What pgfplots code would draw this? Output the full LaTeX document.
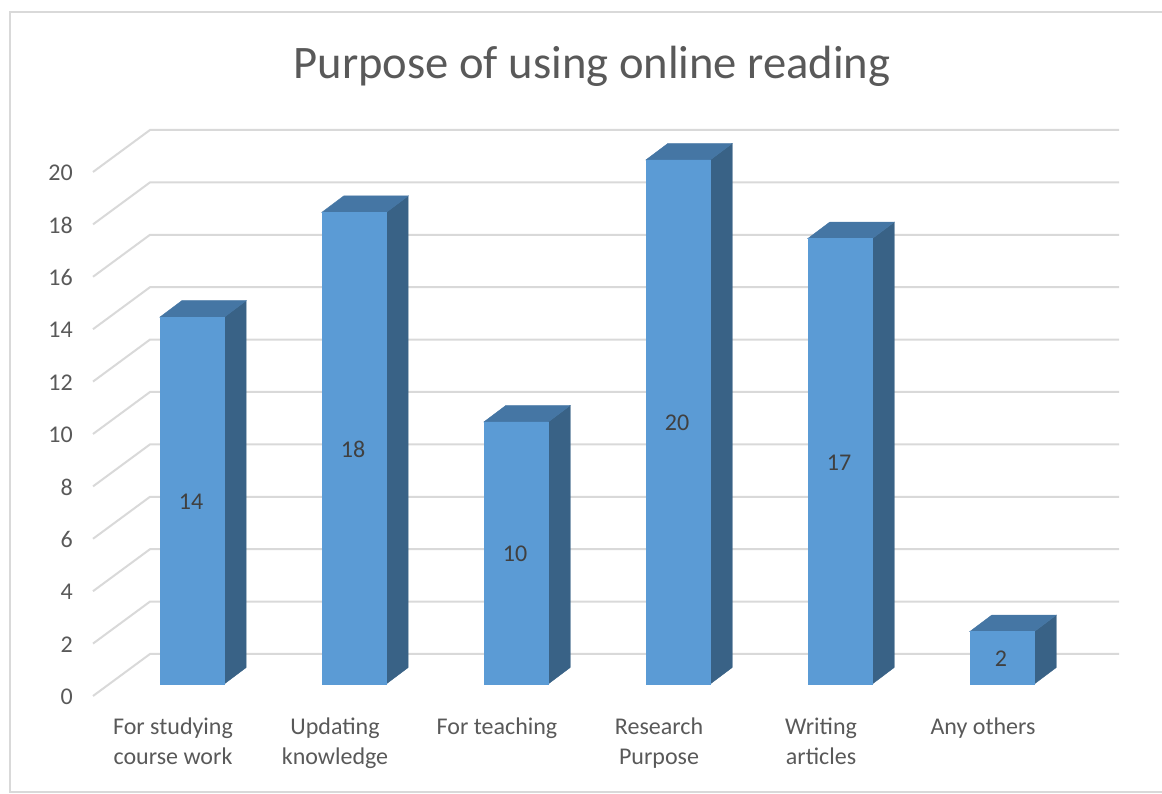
\documentclass[border=0pt]{standalone}
\usepackage{pgfplots}
\pgfplotsset{compat=1.18}
\usepackage{fontspec}
\setmainfont{Carlito}
\definecolor{gridc}{HTML}{D9D9D9}
\definecolor{txt}{HTML}{595959}
\definecolor{front}{HTML}{5B9BD5}
\definecolor{topf}{HTML}{4576A4}
\definecolor{sidef}{HTML}{396286}
\begin{document}
\begin{tikzpicture}
\useasboundingbox (0,0) rectangle (1162pt,794pt);
\draw[gridc,line width=2pt] (1165pt,2pt) -- (10pt,2pt) -- (10pt,782pt) -- (1165pt,782pt);
\begin{axis}[
  at={(0,0)}, anchor=south west,
  scale only axis, width=1162pt, height=794pt,
  xmin=-1.18519, xmax=5.98765,
  ymin=-4.1985, ymax=26.1069,
  axis line style={draw=none},
  major tick length=0pt,
  xticklabel pos=lower, yticklabel pos=left,
  xtick={0,1,2,3,4,5},
  xticklabels={{For studying\\course work},{Updating\\knowledge},{For teaching},{Research\\Purpose},{Writing\\articles},{Any others}},
  ytick={0,2,...,20},
  /pgf/number format/assume math mode=true,
  ticklabel style={text=txt,inner sep=0pt},
  xticklabel style={font=\fontsize{24}{30}\selectfont,align=center,anchor=north,xshift=-19pt,yshift=76pt},
  yticklabel style={font=\fontsize{24}{30}\selectfont,anchor=east,xshift=73pt,yshift=-13pt},
  title={Purpose of using online reading},
  title style={font=\fontsize{46.6}{52}\selectfont,text=txt,at={(0.5095,0.9095)},anchor=center},
  unbounded coords=jump,
]
% gridlines: side wall and back wall
\addplot[gridc,line width=2pt,no marks] coordinates {
(-0.6111,-0.458)(-0.2593,1.145)(5.7222,1.145)(nan,nan)
(-0.6111,1.542)(-0.2593,3.145)(5.7222,3.145)(nan,nan)
(-0.6111,3.542)(-0.2593,5.145)(5.7222,5.145)(nan,nan)
(-0.6111,5.542)(-0.2593,7.145)(5.7222,7.145)(nan,nan)
(-0.6111,7.542)(-0.2593,9.145)(5.7222,9.145)(nan,nan)
(-0.6111,9.542)(-0.2593,11.145)(5.7222,11.145)(nan,nan)
(-0.6111,11.542)(-0.2593,13.145)(5.7222,13.145)(nan,nan)
(-0.6111,13.542)(-0.2593,15.145)(5.7222,15.145)(nan,nan)
(-0.6111,15.542)(-0.2593,17.145)(5.7222,17.145)(nan,nan)
(-0.6111,17.542)(-0.2593,19.145)(5.7222,19.145)(nan,nan)
(-0.6111,19.542)(-0.2593,21.145)(5.7222,21.145)
};
% side faces
\addplot[fill=sidef,draw=sidef,line width=0.4pt,no marks] coordinates {(0.199,0)(0.3348,0.63)(0.3348,14.63)(0.199,14)} -- cycle;
\addplot[fill=sidef,draw=sidef,line width=0.4pt,no marks] coordinates {(1.199,0)(1.3348,0.63)(1.3348,18.63)(1.199,18)} -- cycle;
\addplot[fill=sidef,draw=sidef,line width=0.4pt,no marks] coordinates {(2.199,0)(2.3348,0.63)(2.3348,10.63)(2.199,10)} -- cycle;
\addplot[fill=sidef,draw=sidef,line width=0.4pt,no marks] coordinates {(3.199,0)(3.3348,0.63)(3.3348,20.63)(3.199,20)} -- cycle;
\addplot[fill=sidef,draw=sidef,line width=0.4pt,no marks] coordinates {(4.199,0)(4.3348,0.63)(4.3348,17.63)(4.199,17)} -- cycle;
\addplot[fill=sidef,draw=sidef,line width=0.4pt,no marks] coordinates {(5.199,0)(5.3348,0.63)(5.3348,2.63)(5.199,2)} -- cycle;
% top faces
\addplot[fill=topf,draw=topf,line width=0.4pt,no marks] coordinates {(-0.199,14)(0.199,14)(0.3348,14.63)(-0.0632,14.63)} -- cycle;
\addplot[fill=topf,draw=topf,line width=0.4pt,no marks] coordinates {(0.801,18)(1.199,18)(1.3348,18.63)(0.9368,18.63)} -- cycle;
\addplot[fill=topf,draw=topf,line width=0.4pt,no marks] coordinates {(1.801,10)(2.199,10)(2.3348,10.63)(1.9368,10.63)} -- cycle;
\addplot[fill=topf,draw=topf,line width=0.4pt,no marks] coordinates {(2.801,20)(3.199,20)(3.3348,20.63)(2.9368,20.63)} -- cycle;
\addplot[fill=topf,draw=topf,line width=0.4pt,no marks] coordinates {(3.801,17)(4.199,17)(4.3348,17.63)(3.9368,17.63)} -- cycle;
\addplot[fill=topf,draw=topf,line width=0.4pt,no marks] coordinates {(4.801,2)(5.199,2)(5.3348,2.63)(4.9368,2.63)} -- cycle;
% front faces
\addplot[ybar,bar width=64pt,bar shift=0pt,fill=front,draw=front,line width=0.4pt] coordinates {(0,14)(1,18)(2,10)(3,20)(4,17)(5,2)};
% data labels
\addplot[draw=none,no marks,point meta=explicit symbolic,
  nodes near coords,
  every node near coord/.style={anchor=center,inner sep=0pt,xshift=-1pt,yshift=-1pt,text=black!75,font=\fontsize{24}{30}\selectfont}]
  coordinates {(0,7)[14](1,9)[18](2,5)[10](3,10)[20](4,8.5)[17](5,1)[2]};
\end{axis}
\end{tikzpicture}
\end{document}
